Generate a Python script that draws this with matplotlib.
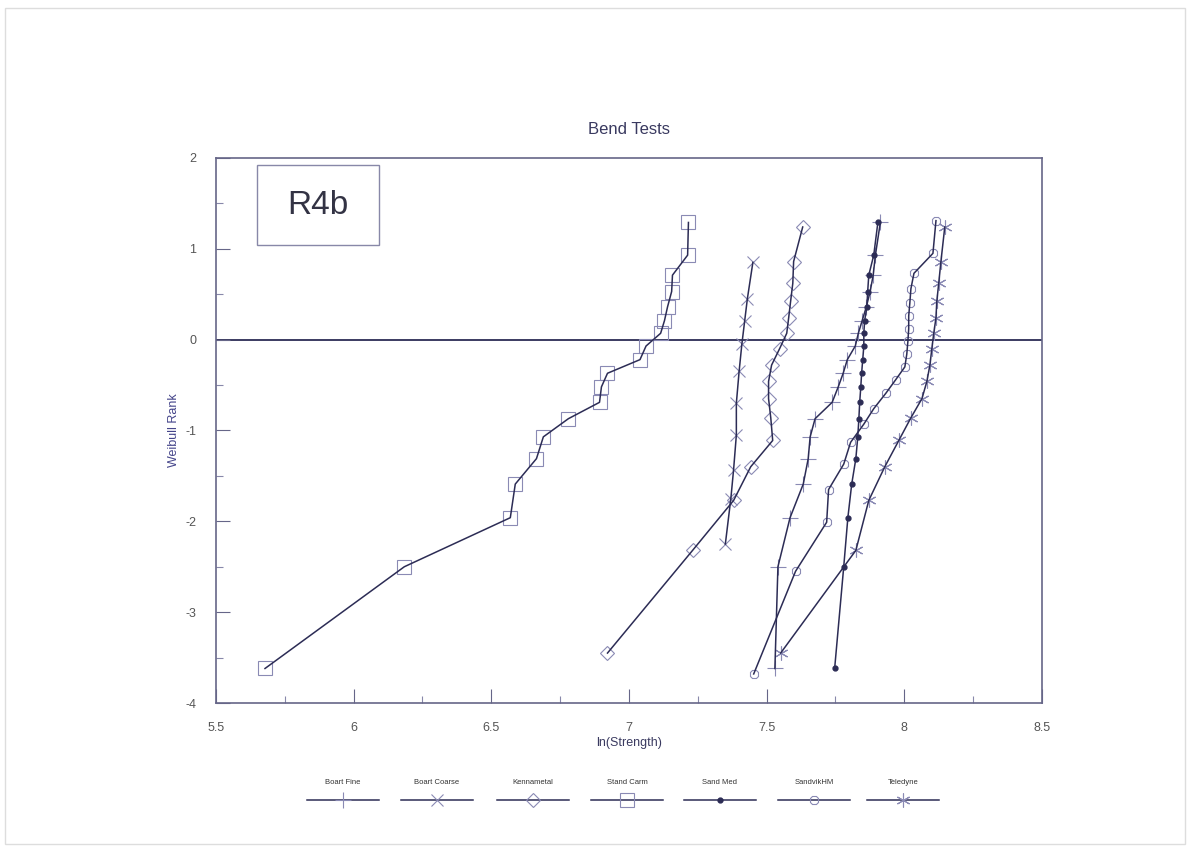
import matplotlib
matplotlib.use("Agg")
import matplotlib.pyplot as plt
from matplotlib.patches import Rectangle
from matplotlib.lines import Line2D

plt.rcParams['font.family'] = ['Liberation Sans', 'DejaVu Sans']
plt.rcParams['axes.unicode_minus'] = False

# Weibull plots of bend test strength for each powder source
names = ['Boart Fine', 'Boart Coarse', 'Kennametal', 'Stand Carm',
         'Sand Med', 'SandvikHM', 'Teledyne']

boart_fine_x = [7.530, 7.541, 7.585, 7.633, 7.651, 7.658, 7.676, 7.738, 7.760, 7.778,
                7.793, 7.822, 7.833, 7.847, 7.862, 7.876, 7.887, 7.895, 7.913]
boart_fine_y = [-3.62, -2.50, -1.96, -1.59, -1.31, -1.07, -0.87, -0.69, -0.52, -0.37,
                -0.22, -0.07, 0.07, 0.21, 0.36, 0.53, 0.71, 0.93, 1.29]

boart_coarse_x = [7.35, 7.37, 7.38, 7.39, 7.39, 7.40, 7.41, 7.42, 7.43, 7.45]
boart_coarse_y = [-2.25, -1.75, -1.43, -1.05, -0.70, -0.35, -0.05, 0.20, 0.45, 0.85]

kennametal_x = [6.922, 7.231, 7.380, 7.442, 7.522, 7.515, 7.507, 7.507,
                7.518, 7.547, 7.573, 7.580, 7.587, 7.595, 7.598, 7.631]
kennametal_y = [-3.45, -2.32, -1.77, -1.40, -1.11, -0.86, -0.65, -0.46,
                -0.28, -0.10, 0.07, 0.24, 0.42, 0.62, 0.86, 1.24]

stand_carm_x = [5.678, 6.184, 6.569, 6.587, 6.664, 6.689, 6.780, 6.893, 6.900, 6.922,
                7.040, 7.062, 7.115, 7.129, 7.140, 7.155, 7.158, 7.213, 7.216]
stand_carm_y = boart_fine_y

sand_med_x = [7.747, 7.780, 7.795, 7.809, 7.824, 7.831, 7.835, 7.838, 7.842, 7.845,
              7.849, 7.853, 7.853, 7.856, 7.864, 7.867, 7.871, 7.889, 7.904]
sand_med_y = boart_fine_y

sandvik_x = [7.453, 7.605, 7.718, 7.725, 7.780, 7.805, 7.853, 7.889, 7.933, 7.969,
             8.002, 8.009, 8.013, 8.016, 8.016, 8.020, 8.024, 8.035, 8.104, 8.115]
sandvik_y = [-3.68, -2.55, -2.01, -1.65, -1.37, -1.13, -0.93, -0.76, -0.59, -0.44,
             -0.30, -0.16, -0.02, 0.12, 0.26, 0.40, 0.56, 0.73, 0.95, 1.31]

teledyne_x = [7.551, 7.824, 7.871, 7.929, 7.980, 8.024, 8.064, 8.082,
              8.093, 8.100, 8.107, 8.115, 8.118, 8.125, 8.133, 8.147]
teledyne_y = kennametal_y

series_x = [boart_fine_x, boart_coarse_x, kennametal_x, stand_carm_x,
            sand_med_x, sandvik_x, teledyne_x]
series_y = [boart_fine_y, boart_coarse_y, kennametal_y, stand_carm_y,
            sand_med_y, sandvik_y, teledyne_y]

line_col = '#2c2c55'
mark_col = '#8a8ab4'
text_col = '#3a3a60'

# marker, size, filled
styles = [('+', 12, False), ('x', 8, False), ('D', 7.5, False), ('s', 10, False),
          ('o', 3.5, True), ('8', 6, False), ((6, 2, 0), 10, False)]

fig = plt.figure(figsize=(11.9, 8.47), dpi=100)
ax = fig.add_axes([0.1815, 0.170, 0.6941, 0.6435])

for x, y, (m, ms, filled) in zip(series_x, series_y, styles):
    ax.plot(x, y, color=line_col, lw=1.1, zorder=3)
    if filled:
        ax.plot(x, y, ls='none', marker=m, ms=ms, color=line_col, zorder=4)
    else:
        ax.plot(x, y, ls='none', marker=m, ms=ms, mfc='none', mec=mark_col,
                mew=0.8, zorder=2)

ax.axhline(0, color=line_col, lw=1.3, zorder=1)

ax.set_xlim(5.5, 8.5)
ax.set_ylim(-4, 2)
ax.set_xticks([5.5, 6, 6.5, 7, 7.5, 8, 8.5])
ax.set_xticklabels(['5.5', '6', '6.5', '7', '7.5', '8', '8.5'])
ax.set_yticks([-4, -3, -2, -1, 0, 1, 2])
ax.set_xticks([5.75, 6.25, 6.75, 7.25, 7.75, 8.25], minor=True)
ax.set_yticks([-3.5, -2.5, -1.5, -0.5, 0.5, 1.5], minor=True)
ax.tick_params(which='major', direction='in', length=10, width=0.8, color='#666688',
               labelsize=9, labelcolor='#555555', pad=14)
ax.tick_params(which='minor', direction='in', length=5, width=0.8, color='#8888aa')
for s in ax.spines.values():
    s.set_color('#666688')
    s.set_linewidth(1.2)

ax.set_title('Bend Tests', fontsize=12, color=text_col, pad=17)
ax.set_xlabel('ln(Strength)', fontsize=9, color=text_col, labelpad=2)
ax.set_ylabel('Weibull Rank', fontsize=9, color='#44448a', labelpad=4)

# sample id box
ax.add_patch(Rectangle((5.648, 1.04), 0.445, 0.88, fill=False, ec='#8888a8', lw=1,
                       zorder=5))
ax.text(5.87, 1.48, 'R4b', fontsize=24, color='#333344', ha='center', va='center')

# legend strip under the axes: label above, line with marker below
cx = [343, 437, 533, 627, 720, 814, 903]
for c, name, (m, ms, filled) in zip(cx, names, styles):
    xc = c / 1190
    fig.text(xc, 1 - 782 / 847, name, fontsize=5.5, color='#333333',
             ha='center', va='center')
    fig.add_artist(Line2D([xc - 36 / 1190, xc + 36 / 1190],
                          [1 - 800 / 847] * 2, color=line_col, lw=1.1))
    if filled:
        fig.add_artist(Line2D([xc], [1 - 800 / 847], ls='none', marker=m, ms=ms,
                              color=line_col))
    else:
        fig.add_artist(Line2D([xc], [1 - 800 / 847], ls='none', marker=m, ms=ms,
                              mfc='none', mec=mark_col, mew=0.8))

# faint page edge
fig.add_artist(Rectangle((0.004, 0.004), 0.992, 0.986, transform=fig.transFigure,
                         fill=False, ec='#dddddd', lw=1))

fig.savefig('out.png', dpi=100)
